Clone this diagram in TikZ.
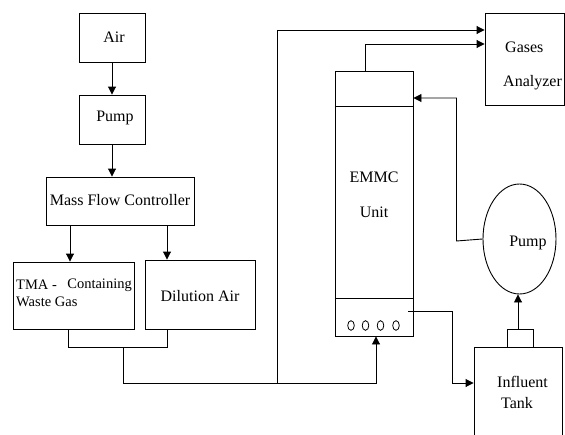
\documentclass[tikz,border=0pt]{standalone}
\usepackage{fontspec}
\setmainfont{Liberation Serif}
\usetikzlibrary{arrows.meta,shapes.geometric}
\begin{document}
\begin{tikzpicture}[x=1pt,y=-1pt,
  box/.style={draw,line width=0.9pt,inner sep=0pt,fill=none},
  txt/.style={inner sep=0pt,font=\fontsize{16}{18}\selectfont},
  smalltxt/.style={inner sep=0pt,font=\fontsize{14.5}{17}\selectfont},
  conn/.style={line width=0.9pt},
  arr/.style={line width=0.9pt,-{Triangle[length=8pt,width=8pt]}}]
\useasboundingbox (0,0) rectangle (565,434);
% boxes
\node[box,minimum width=66pt,minimum height=49pt] (air) at (112,37.5) {};
\node[txt] (airt) at (114,37) {Air};
\node[box,minimum width=66pt,minimum height=49pt] (pump1) at (112,119.5) {};
\node[txt] (pump1t) at (115,118) {Pump};
\node[box,minimum width=148pt,minimum height=48pt] (mfc) at (120,201) {};
\node[txt] (mfct) at (120,200) {Mass Flow Controller};
\node[box,minimum width=121pt,minimum height=67pt] (tma) at (73.5,295.5) {};
\node[smalltxt,anchor=west] (tmat1) at (16,285) {TMA -};
\node[smalltxt,anchor=east] (tmat2) at (132,285) {Containing};
\node[smalltxt,anchor=west] (tmat3) at (16,302) {Waste Gas};
\node[box,minimum width=110pt,minimum height=69pt] (dil) at (200,294.5) {};
\node[txt] (dilt) at (200,296) {Dilution Air};
\node[box,minimum width=79pt,minimum height=92pt] (gas) at (524.5,59) {};
\node[txt,anchor=west] (gast1) at (505,47) {Gases};
\node[txt,anchor=west] (gast2) at (503,83) {Analyzer};
\node[box,minimum width=78pt,minimum height=265pt] (emmc) at (374,203.5) {};
\draw[conn] (emmc.west |- 0,106) -- (emmc.east |- 0,106);
\draw[conn] (emmc.west |- 0,298) -- (emmc.east |- 0,298);
\node[txt] (emmct1) at (374,177) {EMMC};
\node[txt] (emmct2) at (374,212) {Unit};
\foreach \cx in {351,365.5,380.5,396}
  \draw[line width=0.8pt] (\cx,325.5) ellipse [x radius=3.3pt, y radius=4.8pt];
\node[box,ellipse,minimum width=73pt,minimum height=110pt] (pump2) at (519.5,239) {};
\node[txt] (pump2t) at (528,243) {Pump};
\node[box,minimum width=88pt,minimum height=95pt] (tank) at (518,394.5) {};
\node[txt,anchor=west] (tankt1) at (497,382) {Influent};
\node[txt,anchor=west] (tankt2) at (501,403) {Tank};
\node[box,minimum width=26pt,minimum height=18pt] (cap) at (520,338) {};
% coordinates
\coordinate (j1) at (123,347);
\coordinate (j2) at (277,383);
\coordinate (eo) at (408,311);
% connectors
\draw[arr] (air.south) -- (pump1.north);
\draw[arr] (pump1.south) -- (mfc.north -| pump1.south);
\draw[arr] (mfc.south -| 70,0) -- (tma.north -| 70,0);
\draw[arr] (mfc.south -| 167,0) -- (dil.north -| 167,0);
\draw[conn] (tma.south -| 68,0) -- (68,347) -- (167,347) -- (dil.south -| 167,0);
\draw[arr] (j1) -- (123,383) -- (376,383) -- (emmc.south -| 376,0);
\draw[arr] (j2) -- (277,30) -- (gas.west |- 0,30);
\draw[arr] (emmc.north -| 365,0) -- (365,44) -- (gas.west |- 0,44);
\draw[arr] (pump2.west) -- (456.5,241) -- (456.5,98) -- (emmc.east |- 0,98);
\draw[arr] (eo) -- (452,311) -- (452,383) -- (tank.west |- 0,383);
\draw[arr] (cap.north -| 518,0) -- (pump2.south -| 518,0);
\end{tikzpicture}
\end{document}
